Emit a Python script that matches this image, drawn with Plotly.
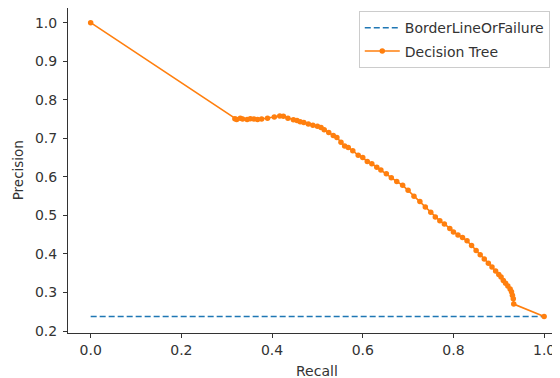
"""Precision-recall curve for the decision tree classifier."""

import plotly.graph_objects as go

# baseline = share of positives (BorderLineOrFailure)
baseline_recall = [0.0, 1.0]
baseline_precision = [0.238, 0.238]

# decision tree PR curve
tree_recall = [
    0.0, 0.318, 0.322, 0.33, 0.335, 0.345, 0.352, 0.36, 0.368, 0.377,
    0.39, 0.405, 0.417, 0.425, 0.435, 0.447, 0.455, 0.462, 0.47, 0.48,
    0.49, 0.5, 0.508, 0.515, 0.525, 0.535, 0.543, 0.552, 0.56, 0.568,
    0.578, 0.59, 0.6, 0.61, 0.62, 0.631, 0.64, 0.652, 0.663, 0.675,
    0.688, 0.7, 0.713, 0.726, 0.738, 0.75, 0.76, 0.77, 0.78, 0.792,
    0.8, 0.81, 0.82, 0.83, 0.84, 0.85, 0.859, 0.868, 0.877, 0.885,
    0.893, 0.9, 0.905, 0.91, 0.915, 0.92, 0.925, 0.928, 0.93, 0.932,
    0.933, 1.0,
]
tree_precision = [
    1.0, 0.751, 0.749, 0.752, 0.750, 0.749, 0.751, 0.750, 0.749, 0.750,
    0.752, 0.755, 0.758, 0.757, 0.752, 0.748, 0.746, 0.743, 0.741, 0.737,
    0.734, 0.731, 0.728, 0.722, 0.715, 0.707, 0.702, 0.690, 0.680, 0.676,
    0.668, 0.656, 0.650, 0.640, 0.634, 0.625, 0.618, 0.608, 0.598, 0.588,
    0.578, 0.565, 0.550, 0.536, 0.522, 0.508, 0.496, 0.486, 0.478, 0.466,
    0.457, 0.449, 0.443, 0.434, 0.422, 0.409, 0.398, 0.387, 0.376, 0.366,
    0.356, 0.347, 0.340, 0.331, 0.324, 0.317, 0.309, 0.302, 0.293, 0.284,
    0.270, 0.238,
]

x_ticks = [0.0, 0.2, 0.4, 0.6, 0.8, 1.0]
y_ticks = [0.2, 0.3, 0.4, 0.5, 0.6, 0.7, 0.8, 0.9, 1.0]

FONT = "DejaVu Sans, sans-serif"
AXIS_COLOR = "#333333"
FONT_SIZE = 14

fig = go.Figure()

fig.add_trace(go.Scatter(
    x=baseline_recall,
    y=baseline_precision,
    mode="lines",
    name="BorderLineOrFailure",
    legendgroup="base",
    line=dict(color="#1f77b4", width=1.5, dash="6px,3px"),
))

fig.add_trace(go.Scatter(
    x=tree_recall,
    y=tree_precision,
    mode="lines+markers",
    name="Decision Tree",
    legendgroup="tree",
    line=dict(color="#ff7f0e", width=1.6),
    marker=dict(color="#ff7f0e", size=5.5),
))

axis_common = dict(
    showgrid=False,
    zeroline=False,
    showline=True,
    linecolor=AXIS_COLOR,
    linewidth=1,
    ticks="outside",
    ticklen=4,
    tickwidth=1,
    tickcolor=AXIS_COLOR,
    tickfont=dict(family=FONT, size=FONT_SIZE, color=AXIS_COLOR),
)

# the page body adds an 8px offset, so the figure is a bit smaller than the window
fig.update_layout(
    width=552,
    height=370,
    paper_bgcolor="white",
    plot_bgcolor="white",
    font=dict(family=FONT, size=FONT_SIZE, color=AXIS_COLOR),
    margin=dict(l=60, r=0, t=0, b=45),
    xaxis=dict(
        **axis_common,
        mirror=True,
        range=[-0.05, 1.035],
        tickvals=x_ticks,
        ticktext=[f"{v:.1f}" for v in x_ticks],
    ),
    yaxis=dict(
        **axis_common,
        range=[0.195, 1.038],
        tickvals=y_ticks,
        ticktext=[f"{v:.1f}" for v in y_ticks],
        ticklabelstandoff=3,
    ),
    legend=dict(
        x=0.591, y=0.99, xanchor="left", yanchor="top",
        bgcolor="white",
        bordercolor="#cccccc",
        borderwidth=1,
        itemwidth=35,
        tracegroupgap=2,
        font=dict(family=FONT, size=FONT_SIZE, color=AXIS_COLOR),
    ),
    annotations=[
        dict(text="Recall", xref="paper", yref="paper", x=0.506, y=-0.117,
             xanchor="center", yanchor="middle", showarrow=False,
             font=dict(family=FONT, size=FONT_SIZE, color=AXIS_COLOR)),
        dict(text="Precision", xref="paper", yref="paper", x=-0.102, y=0.5,
             textangle=-90, xanchor="center", yanchor="middle", showarrow=False,
             font=dict(family=FONT, size=13.5, color=AXIS_COLOR)),
    ],
)

fig.write_html("out.html")
